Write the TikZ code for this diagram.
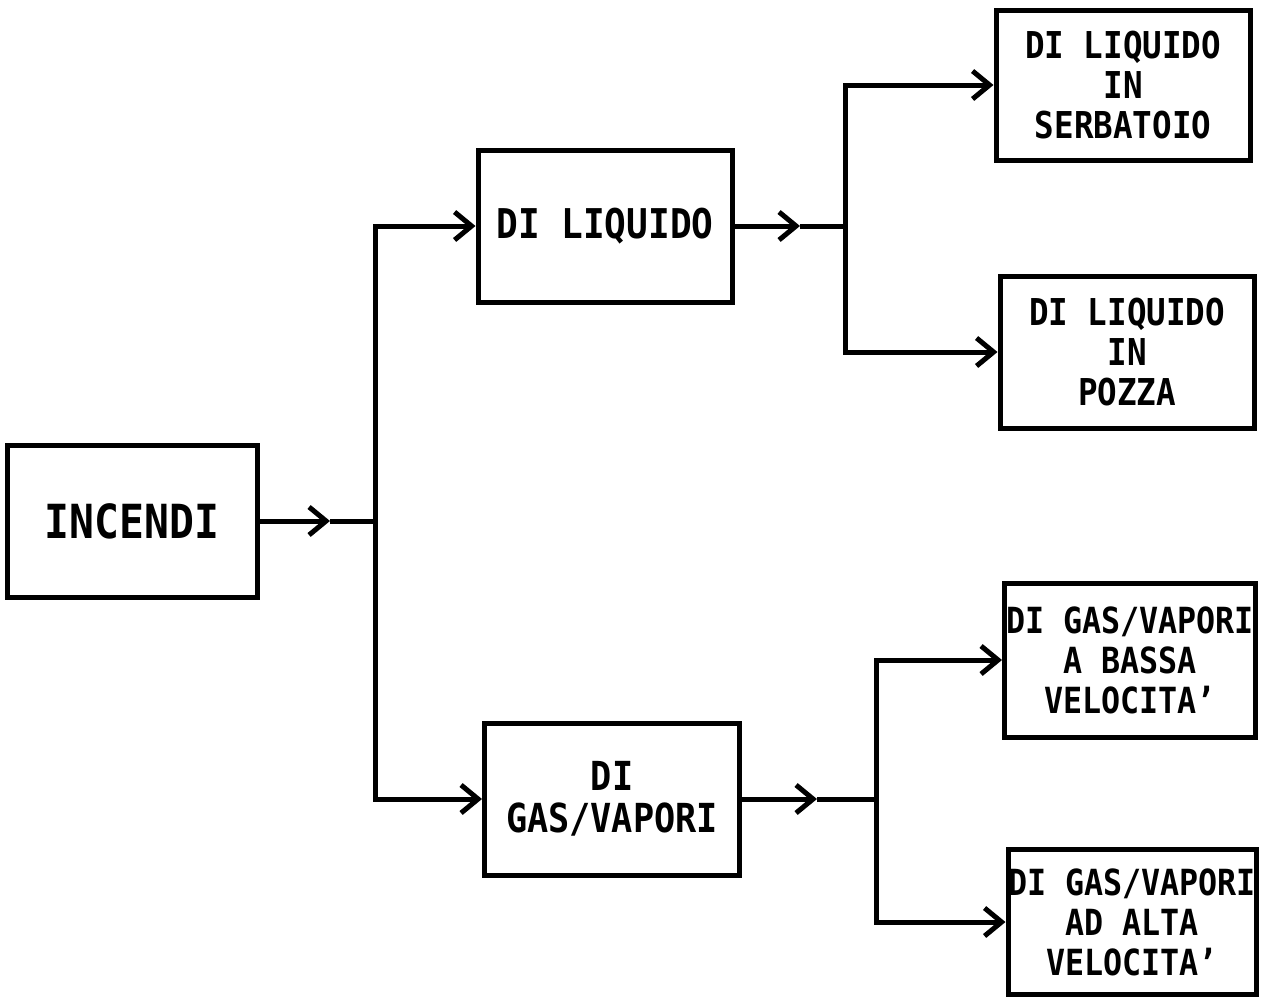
\documentclass[tikz,border=0pt]{standalone}
\usepackage{fontspec}
\setmainfont[FakeStretch=0.88]{DejaVu Sans Mono Bold}
\usetikzlibrary{arrows.meta}
\tikzset{
  box/.style={draw, line width=5pt, inner sep=0pt, align=center, font=\fontsize{37}{40}\selectfont},
  conn/.style={line width=5pt, line join=miter},
  barb/.style={conn, -{Straight Barb[length=17pt,width=28pt,line width=5pt]}}
}
\begin{document}
\begin{tikzpicture}[x=1pt,y=-1pt]
\useasboundingbox (0,0) rectangle (1263,999);
\node[box, minimum width=250pt, minimum height=152pt, font=\fontsize{47}{48}\selectfont] (inc) at (132,521) {INCENDI};
\node[box, minimum width=254pt, minimum height=152pt, font=\fontsize{41}{42}\selectfont] (liq) at (605,226) {DI LIQUIDO};
\node[box, minimum width=255pt, minimum height=152pt, font=\fontsize{40}{42}\selectfont] (gas) at (612,799) {DI\\GAS/VAPORI};
\node[box, minimum width=254pt, minimum height=150pt] (serb) at (1123,85) {DI LIQUIDO\\IN\\SERBATOIO};
\node[box, minimum width=254pt, minimum height=152pt] (pozza) at (1127,352) {DI LIQUIDO\\IN\\POZZA};
\node[box, minimum width=251pt, minimum height=154pt, font=\fontsize{36}{40}\selectfont] (bassa) at (1130,660) {DI GAS/VAPORI\\A BASSA\\VELOCITA'};
\node[box, minimum width=248pt, minimum height=145pt, font=\fontsize{36}{40}\selectfont] (alta) at (1132,922) {DI GAS/VAPORI\\AD ALTA\\VELOCITA'};
\coordinate (m0) at (330,521);
\coordinate (j0) at (375,521);
\coordinate (m1) at (800,226);
\coordinate (j1) at (845,226);
\coordinate (m2) at (817,799);
\coordinate (j2) at (876,799);
\draw[barb] (inc.east) -- (m0);
\draw[conn] (m0) -- (j0);
\draw[barb] (j0) |- (liq.west);
\draw[barb] (j0) |- (gas.west);
\draw[barb] (liq.east) -- (m1);
\draw[conn] (m1) -- (j1);
\draw[barb] (j1) |- (serb.west);
\draw[barb] (j1) |- (pozza.west);
\draw[barb] (gas.east) -- (m2);
\draw[conn] (m2) -- (j2);
\draw[barb] (j2) |- (bassa.west);
\draw[barb] (j2) |- (alta.west);
\end{tikzpicture}
\end{document}
